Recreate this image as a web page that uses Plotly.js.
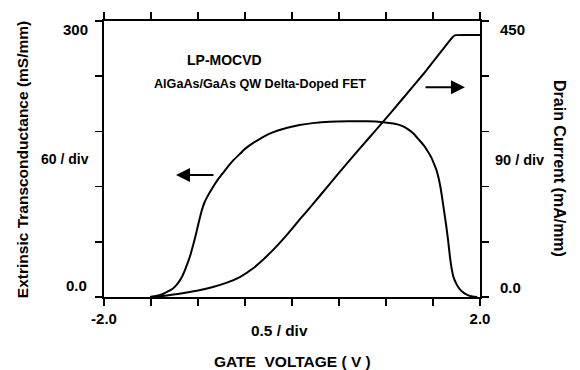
<!DOCTYPE html>
<html>
<head>
<meta charset="utf-8">
<script src="https://cdn.plot.ly/plotly-3.0.1.min.js"></script>
<style>html,body{margin:0;padding:0;background:#fff;}#chart{width:580px;height:370px;}</style>
</head>
<body>
<div id="chart"></div>
<script>
// Gate voltage (V) and extrinsic transconductance (mS/mm)
const vgGm = [-1.51, -1.45, -1.38, -1.32, -1.27, -1.23, -1.20, -1.17, -1.14, -1.11, -1.08, -1.05, -1.02, -0.99, -0.96, -0.93, -0.89, -0.85, -0.80, -0.74, -0.68, -0.62, -0.56, -0.50, -0.42, -0.34, -0.25, -0.15, -0.05, 0.08, 0.22, 0.40, 0.60, 0.80, 0.97, 1.08, 1.17, 1.24, 1.30, 1.35, 1.40, 1.44, 1.48, 1.51, 1.54, 1.56, 1.58, 1.60, 1.62, 1.64, 1.66, 1.68, 1.70, 1.72, 1.75, 1.78, 1.82, 1.87, 1.92, 1.97];
const gm   = [0, 1, 3, 6, 9, 13, 17, 22, 29, 37, 46, 57, 69, 82, 94, 103, 111, 118, 126, 134, 142, 149, 155, 161, 167, 172, 177, 181, 184, 187, 189, 190.5, 191, 191, 190, 188.5, 186, 182, 177, 171, 165, 159, 152, 145, 137, 129, 119, 106, 92, 78, 62, 44, 30, 21, 14, 9, 5, 2, 0.5, 0];

// Gate voltage (V) and drain current (mA/mm)
const vgId = [-1.48, -1.38, -1.28, -1.15, -1.00, -0.85, -0.70, -0.55, -0.42, -0.30, -0.18, -0.05, 0.08, 0.22, 0.40, 0.585, 0.80, 0.97, 1.17, 1.40, 1.60, 1.71, 1.74, 2.0];
const id   = [0, 1.5, 3.5, 6.5, 10.5, 16, 23, 33, 46, 62, 80, 102, 126, 151, 184, 218, 256, 286, 322, 364, 403, 424, 427, 427];

const xTicks = [-2, -1.5, -1, -0.5, 0, 0.5, 1, 1.5, 2];
const xTickText = ['-2.0', '', '', '', '', '', '', '', '2.0'];
const yTicks = [0, 60, 120, 180, 240, 300];

const F = 'Arial, "Liberation Sans", Helvetica, sans-serif';

const traces = [
  {x: vgGm, y: gm, mode: 'lines', line: {color: '#000', width: 2, shape: 'spline', smoothing: 0.5}, yaxis: 'y', hoverinfo: 'skip'},
  {x: vgId, y: id, mode: 'lines', line: {color: '#000', width: 2, shape: 'spline', smoothing: 0.3}, yaxis: 'y2', hoverinfo: 'skip'}
];

const layout = {
  width: 580, height: 370,
  margin: {l: 104, r: 100, t: 21, b: 73},
  paper_bgcolor: '#fff', plot_bgcolor: '#fff',
  showlegend: false,
  font: {family: F, color: '#000', size: 14},
  xaxis: {
    range: [-2, 2], tickvals: xTicks, ticktext: xTickText,
    ticks: 'outside', ticklen: 7, tickwidth: 1.5, tickcolor: '#000',
    showline: true, linewidth: 2, linecolor: '#000', mirror: 'ticks',
    showgrid: false, zeroline: false, fixedrange: true,
    tickfont: {family: F, size: 15, weight: 'bold'}
  },
  yaxis: {
    range: [0, 300], tickvals: yTicks, showticklabels: false,
    ticks: 'outside', ticklen: 7, tickwidth: 1.5, tickcolor: '#000',
    showline: true, linewidth: 2, linecolor: '#000', mirror: 'ticks',
    showgrid: false, zeroline: false, fixedrange: true
  },
  yaxis2: {
    range: [0, 450], overlaying: 'y', side: 'right',
    showticklabels: false, ticks: '', showline: false,
    showgrid: false, zeroline: false, fixedrange: true
  },
  annotations: [
    {text: '<b>300</b>', xref: 'paper', yref: 'paper', x: -0.037, y: 0.971, xanchor: 'right', yanchor: 'middle', showarrow: false, font: {size: 15}},
    {text: '<b>0.0</b>', xref: 'paper', yref: 'paper', x: -0.040, y: 0.040, xanchor: 'right', yanchor: 'middle', showarrow: false, font: {size: 15}},
    {text: '<b>60 / div</b>', xref: 'paper', yref: 'paper', x: -0.104, y: 0.50, xanchor: 'center', yanchor: 'middle', showarrow: false, font: {size: 14}},
    {text: '<b>450</b>', xref: 'paper', yref: 'paper', x: 1.048, y: 0.971, xanchor: 'left', yanchor: 'middle', showarrow: false, font: {size: 15}},
    {text: '<b>0.0</b>', xref: 'paper', yref: 'paper', x: 1.048, y: 0.036, xanchor: 'left', yanchor: 'middle', showarrow: false, font: {size: 15}},
    {text: '<b>90 / div</b>', xref: 'paper', yref: 'paper', x: 1.035, y: 0.496, xanchor: 'left', yanchor: 'middle', showarrow: false, font: {size: 14.5}},
    {text: '<b>0.5 / div</b>', xref: 'paper', yref: 'paper', x: 0.468, y: -0.123, xanchor: 'center', yanchor: 'middle', showarrow: false, font: {size: 15.4}},
    {text: '<b>GATE  VOLTAGE ( V )</b>', xref: 'paper', yref: 'paper', x: 0.5, y: -0.232, xanchor: 'center', yanchor: 'middle', showarrow: false, font: {size: 15.5}},
    {text: '<b>Extrinsic Transconductance (mS/mm)</b>', xref: 'paper', yref: 'paper', x: -0.218, y: 0.496, xanchor: 'center', yanchor: 'middle', textangle: -90, showarrow: false, font: {size: 15.5}},
    {text: '<b>Drain Current (mA/mm)</b>', xref: 'paper', yref: 'paper', x: 1.213, y: 0.467, xanchor: 'center', yanchor: 'middle', textangle: 90, showarrow: false, font: {size: 16}},
    {text: '<b>LP-MOCVD</b>', xref: 'paper', yref: 'paper', x: 0.215, y: 0.859, xanchor: 'left', yanchor: 'middle', showarrow: false, font: {size: 14}},
    {text: '<b>AlGaAs/GaAs QW Delta-Doped FET</b>', xref: 'paper', yref: 'paper', x: 0.128, y: 0.772, xanchor: 'left', yanchor: 'middle', showarrow: false, font: {size: 12.6}},
    {x: -1.234, y: 132.6, ax: -0.819, ay: 132.6, xref: 'x', yref: 'y', axref: 'x', ayref: 'y', text: '', showarrow: true, arrowhead: 2, arrowsize: 1.4, arrowwidth: 2, arrowcolor: '#000'},
    {x: 1.84, y: 228, ax: 1.404, ay: 228, xref: 'x', yref: 'y', axref: 'x', ayref: 'y', text: '', showarrow: true, arrowhead: 2, arrowsize: 1.4, arrowwidth: 2, arrowcolor: '#000'}
  ]
};

Plotly.newPlot('chart', traces, layout, {staticPlot: true, displayModeBar: false});
</script>
</body>
</html>
